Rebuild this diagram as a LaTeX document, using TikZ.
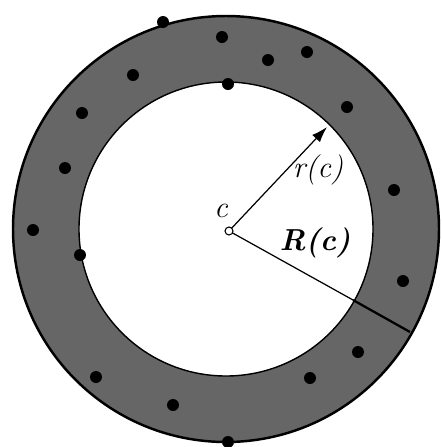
\documentclass[tikz,border=0pt]{standalone}
\usetikzlibrary{arrows.meta}
\tikzset{
  ring/.style={fill=black!60, even odd rule},
  rim/.style={line width=1.4pt},
  speck/.style={fill=black},
  lbl/.style={font=\LARGE}
}
\begin{document}
\begin{tikzpicture}[x=0.02cm,y=-0.02cm]
\useasboundingbox (0,0) rectangle (441,447);

% annulus
\coordinate (o) at (226,229);
\fill[ring] (o) circle (213) (o) circle (147);
\draw[rim] (o) circle (213);
\draw[line width=0.8pt] (o) circle (147);

% scattered points
\foreach \px/\py in {163/22, 222/37, 307/52, 268/60, 133/75, 228/84,
  82/113, 347/107, 65/168, 394/190, 33/230, 80/255, 403/281,
  358/352, 96/377, 310/378, 173/405, 228/442}
  \fill[speck] (\px,\py) circle (6);

% centre and radii
\coordinate (c) at (229,231);
\coordinate (rin) at (327,127);
\coordinate (rmid) at (353,300);
\coordinate (rout) at (410,332);
\draw[line width=0.7pt, -{Latex[length=9pt,width=6pt]}] (c) -- (rin);
\draw[line width=0.7pt] (c) -- (rmid);
\draw[line width=1.3pt] (rmid) -- (rout);
\draw[line width=0.6pt, fill=white] (c) circle (4);

\node[lbl] (lc) at (221,211) {\textit{c}};
\node[lbl] (lr) at (318,170) {\textit{r(c)}};
\node[lbl] (lR) at (315,243) {\textbf{\textit{R(c)}}};
\end{tikzpicture}
\end{document}
